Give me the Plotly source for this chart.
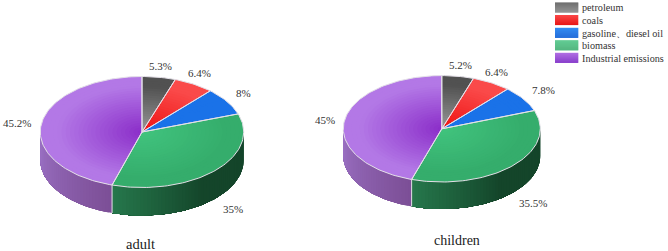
import math
import plotly.graph_objects as go

# ---- data ----
categories = ["petroleum", "coals", "gasoline、diesel oil", "biomass", "Industrial emissions"]
adult_values = [5.3, 6.4, 8, 35, 45.2]
children_values = [5.2, 6.4, 7.8, 35.5, 45]
adult_labels = ["5.3%", "6.4%", "8%", "35%", "45.2%"]
children_labels = ["5.2%", "6.4%", "7.8%", "35.5%", "45%"]

# ---- style ----
top_inner = ["#9a9a9a", "#ee1212", "#1a72e8", "#41c47e", "#8a2cc8"]
top_outer = ["#515151", "#fa4a4a", "#1a72e8", "#35ad6c", "#b378e6"]
side_a = ["#444444", "#aa2222", "#12509f", "#26784c", "#9c72c6"]
side_b = ["#333333", "#881818", "#0e3f80", "#14452a", "#7c4f96"]
EDGE = "#e4e0e8"
W, H = 668, 251
BANDS = 24


def hex2rgb(c):
    return [int(c[i:i + 2], 16) for i in (1, 3, 5)]


def mix(a, b, t):
    ca, cb = hex2rgb(a), hex2rgb(b)
    return "rgb(%d,%d,%d)" % tuple(round(x + (y - x) * t) for x, y in zip(ca, cb))


fig = go.Figure()


def poly(xs, ys, fill):
    fig.add_trace(go.Scatter(
        x=xs, y=ys, mode="lines", fill="toself", fillcolor=fill,
        line=dict(color=fill, width=0), hoverinfo="skip", showlegend=False))


def pie3d(values, cx, cy, rx, ry, depth):
    total = sum(values)
    bounds = [0]
    for v in values:
        bounds.append(bounds[-1] + v / total * 360)

    def pt(a, r=1.0):
        t = math.radians(a)
        return cx + rx * r * math.sin(t), cy - ry * r * math.cos(t)

    def arc(a0, a1, r=1.0):
        n = max(2, int(abs(a1 - a0) / 1.5))
        return [pt(a0 + (a1 - a0) * i / n, r) for i in range(n + 1)]

    # side wall: only the front half (90..270 deg clockwise from the top)
    for i in range(len(values)):
        a0, a1 = max(bounds[i], 90), min(bounds[i + 1], 270)
        if a1 <= a0:
            continue
        n = max(2, int((a1 - a0) / 2))
        for k in range(n):
            s0 = a0 + (a1 - a0) * k / n
            t = (k + 0.5) / n
            if i == 3:  # biomass wall goes from dark (right) to lighter at the seam
                col = mix(side_b[i], side_a[i], max(0, (t - 0.5) * 2))
            elif i == 4:
                col = mix(side_b[i], side_a[i], t)
            else:
                col = mix(side_a[i], side_b[i], t)
            # each strip runs to the end of the slice; the next one paints over it
            seg = arc(s0, a1)
            xs = [p[0] for p in seg] + [p[0] for p in reversed(seg)] + [seg[0][0]]
            ys = [p[1] for p in seg] + [p[1] + depth for p in reversed(seg)] + [seg[0][1]]
            poly(xs, ys, col)

    # seam on the wall
    for a in bounds:
        if 90 < a < 270:
            x, y = pt(a)
            fig.add_trace(go.Scatter(x=[x, x], y=[y, y + depth], mode="lines",
                                     line=dict(color=EDGE, width=1),
                                     hoverinfo="skip", showlegend=False))

    # top face: nested wedges give the radial gradient
    for i in range(len(values)):
        for b in range(BANDS, 0, -1):
            r = b / BANDS
            seg = arc(bounds[i], bounds[i + 1], r)
            col = mix(top_inner[i], top_outer[i], min(1, (r / 0.85)))
            poly([cx] + [p[0] for p in seg] + [cx], [cy] + [p[1] for p in seg] + [cy], col)
    for i in range(len(values)):
        seg = arc(bounds[i], bounds[i + 1])
        fig.add_trace(go.Scatter(
            x=[cx] + [p[0] for p in seg] + [cx], y=[cy] + [p[1] for p in seg] + [cy],
            mode="lines", line=dict(color=EDGE, width=1),
            hoverinfo="skip", showlegend=False))


pie3d(adult_values, 142, 132, 101.7, 55.5, 28)
pie3d(children_values, 441.8, 128.8, 98.5, 53.2, 27)

FONT = "Liberation Serif"
TEXT = "#333333"
annotations = []


def text(x, y, s, size=11, anchor="center", color=TEXT):
    annotations.append(dict(x=x, y=y, text=s, showarrow=False, xanchor=anchor, yanchor="middle",
                            font=dict(family=FONT, size=size, color=color)))


for (x, y), s in zip([(160.7, 66), (199.3, 73.3), (243.3, 92.7), (232.7, 209.3), (16.7, 123.3)], adult_labels):
    text(x, y, s)
for (x, y), s in zip([(460, 65), (496.7, 72), (543, 90), (533.3, 202.7), (325, 120)], children_labels):
    text(x, y, s)
text(140.3, 243.5, "adult", size=14.5, color="#222222")
text(457, 240.5, "children", size=14, color="#222222")

# legend
legend_top = [2.5, 15, 27.8, 40.3, 52.8]
legend_dark = ["#4a4a4a", "#e81818", "#1464d8", "#2fa866", "#8030c8"]
legend_light = ["#777777", "#fa4444", "#2080f0", "#40c07c", "#a860e0"]
shapes = []
for c, top, d, l in zip(categories, legend_top, legend_dark, legend_light):
    steps = 10
    for k in range(steps):
        t = k / (steps - 1)
        shapes.append(dict(type="rect", xref="x", yref="y", x0=555, x1=578.3,
                           y0=top + k, y1=top + k + 1.1,
                           fillcolor=mix(l, d, t) if c != "petroleum" else mix(d, l, t),
                           line=dict(width=0)))
    text(579.5, top + 5.3, c, size=10.2, anchor="left")

fig.update_layout(
    width=W, height=H, margin=dict(l=0, r=0, t=0, b=0, pad=0),
    paper_bgcolor="white", plot_bgcolor="white", showlegend=False,
    xaxis=dict(range=[0, W], visible=False, fixedrange=True),
    yaxis=dict(range=[H, 0], visible=False, fixedrange=True),
    annotations=annotations, shapes=shapes,
)
fig.write_html("out.html", config=dict(displayModeBar=False),
               post_script="document.body.style.margin='0';document.body.style.overflow='hidden';")
